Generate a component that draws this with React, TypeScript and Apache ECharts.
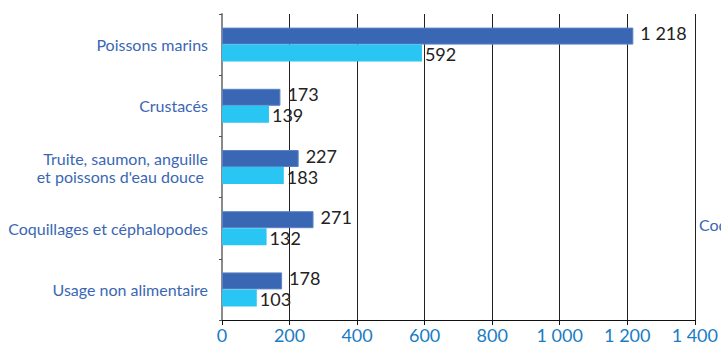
import React, { useEffect, useRef } from "react";
import * as echarts from "echarts";

const categories = [
  "Poissons marins",
  "Crustacés",
  "Truite, saumon, anguille\net poissons d'eau douce ",
  "Coquillages et céphalopodes",
  "Usage non alimentaire",
];
const seriesDark = [1218, 173, 227, 271, 178];
const seriesLight = [592, 139, 183, 132, 103];
const xMin = 0;
const xMax = 1400;
const xInterval = 200;

const fmt = (v: number) => String(v).replace(/\B(?=(\d{3})+(?!\d))/g, " ");

export default function App() {
  const ref = useRef<HTMLDivElement>(null);
  useEffect(() => {
    if (!ref.current) return;
    const chart = echarts.init(ref.current, null, { renderer: "svg" });
    const font = "Lato";
    chart.setOption({
      animation: false,
      textStyle: { fontFamily: font },
      grid: { left: 222, right: 24, top: 14, bottom: 27, containLabel: false },
      xAxis: {
        type: "value",
        min: xMin,
        max: xMax,
        interval: xInterval,
        axisLine: { show: true, lineStyle: { color: "#111", width: 1 } },
        axisTick: { show: true, length: 5, lineStyle: { color: "#111" } },
        axisLabel: {
          color: "#1a7cc4",
          fontSize: 18,
          fontFamily: font,
          margin: 6,
          formatter: (v: number) => fmt(v),
        },
        splitLine: { show: true, lineStyle: { color: "#222", width: 1 } },
      },
      yAxis: {
        type: "category",
        data: categories,
        inverse: true,
        axisLine: { show: true, lineStyle: { color: "#8a8a8a", width: 2 } },
        axisTick: { show: true, length: 3, lineStyle: { color: "#555" } },
        axisLabel: {
          color: "#3a67b4",
          fontSize: 16,
          fontFamily: font,
          margin: 14,
          lineHeight: 18,
          align: "right",
        },
        splitLine: { show: false },
      },
      series: [
        {
          type: "bar",
          data: seriesDark,
          barWidth: 17,
          barGap: "0%",
          itemStyle: { color: "#3a67b4", borderColor: "#5b82c6", borderWidth: 1 },
          label: {
            show: true,
            position: "right",
            distance: 7,
            color: "#222",
            fontSize: 18,
            fontFamily: font,
            offset: [0, -3],
            formatter: (p: any) => fmt(p.value),
          },
        },
        {
          type: "bar",
          data: seriesLight,
          barWidth: 17,
          barGap: "0%",
          itemStyle: { color: "#29c5f3" },
          label: {
            show: true,
            position: "right",
            distance: 3,
            color: "#222",
            fontSize: 18,
            fontFamily: font,
            offset: [0, 1],
            formatter: (p: any) => fmt(p.value),
          },
        },
      ],
      graphic: [
        {
          type: "text",
          left: 699,
          top: 216,
          style: { text: "Coquillages", fill: "#3a67b4", fontSize: 16, fontFamily: font },
        },
      ],
    });
    return () => chart.dispose();
  }, []);
  return <div ref={ref} style={{ width: 721, height: 347, position: "absolute", left: 0, top: 0 }} />;
}
